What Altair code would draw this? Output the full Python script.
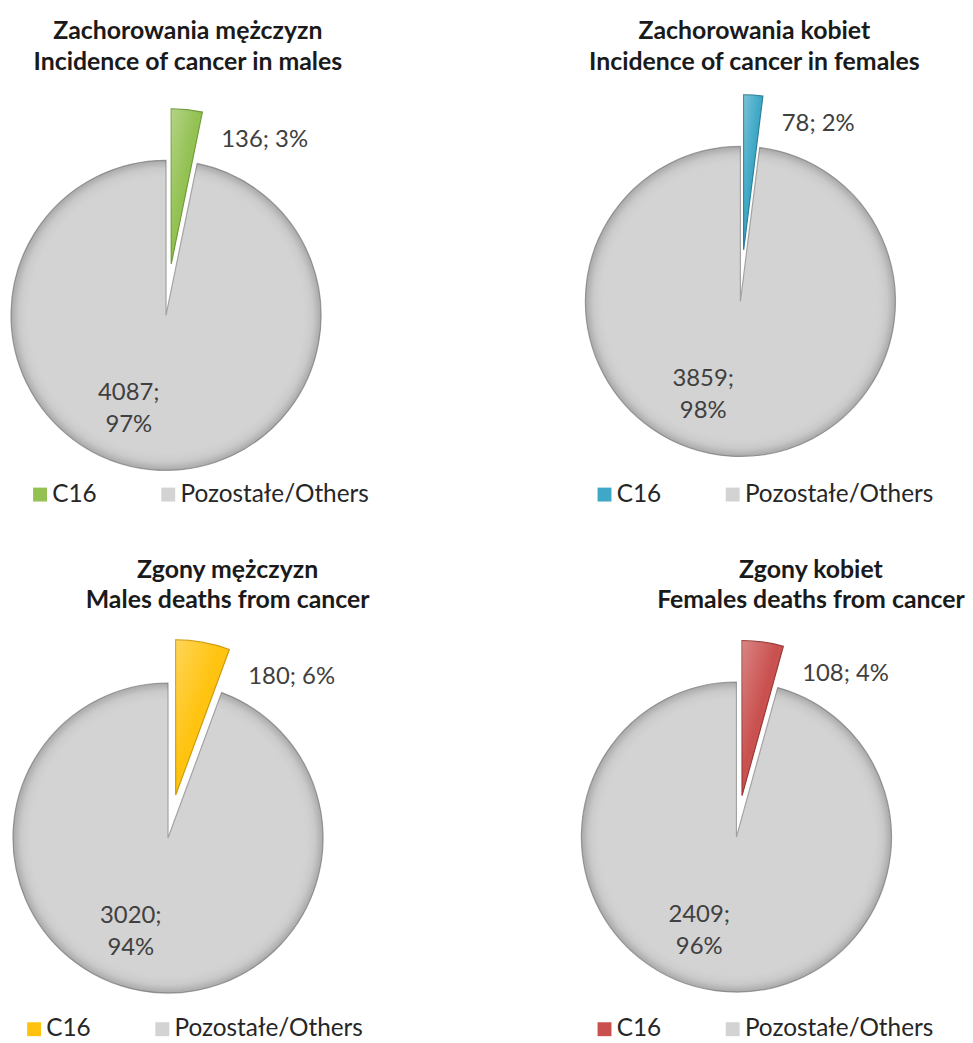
import math
import altair as alt
import pandas as pd

# ---------------- data ----------------
titles_pl = ["Zachorowania mężczyzn", "Zachorowania kobiet", "Zgony mężczyzn", "Zgony kobiet"]
titles_en = ["Incidence of cancer in males", "Incidence of cancer in females",
             "Males deaths from cancer", "Females deaths from cancer"]
categories = ["C16", "Pozostałe/Others"]
c16_counts = [136, 78, 180, 108]
others_counts = [4087, 3859, 3020, 2409]
c16_pct = [3, 2, 6, 4]
others_pct = [97, 98, 94, 96]

# ---------------- styles ----------------
c16_colors = ["#93c152", "#3ea8c6", "#ffc30f", "#c9504e"]
c16_strokes = ["#6f9a35", "#2a7f98", "#d39a00", "#993634"]
gray_fill = "#d3d3d3"
gray_stroke = "#a3a3a3"
FONT = "Lato"

# ---------------- layout (page pixels) ----------------
W, H = 957, 1027
centers = [(165, 314), (743, 300), (167, 840), (739, 839)]
explode = [52, 52, 44, 42]
R = 156
title_pos = [(187, 28), (757, 28), (227, 570), (814, 570)]
legend_pos = [(33, 493), (601, 493), (27, 1031), (601, 1031)]
OUT_DX, OUT_DY = 19, 28
IN_DIST, IN_ANGLE = 87, math.radians(205.5)

xs = alt.Scale(domain=[8, 8 + W])
ys = alt.Scale(domain=[8, 8 + H], reverse=True)
ts = alt.Scale(domain=[0, 1], range=[0, 2 * math.pi])

rim_shade = alt.RadialGradient(
    gradient="radial", x1=0.5, y1=0.5, r1=0, x2=0.5, y2=0.5, r2=0.5,
    stops=[alt.GradientStop(color="rgba(255,255,255,0)", offset=0),
           alt.GradientStop(color="rgba(255,255,255,0)", offset=0.86),
           alt.GradientStop(color="rgba(0,0,0,0.05)", offset=0.95),
           alt.GradientStop(color="rgba(0,0,0,0.20)", offset=1)])
slice_shade = alt.LinearGradient(
    gradient="linear", x1=0, y1=0, x2=1, y2=1,
    stops=[alt.GradientStop(color="rgba(255,255,255,0.30)", offset=0),
           alt.GradientStop(color="rgba(255,255,255,0)", offset=0.45),
           alt.GradientStop(color="rgba(0,0,0,0.18)", offset=1)])

layers = []
out_lbl, in_lbl, title_rows = [], [], []
for i in range(4):
    total = c16_counts[i] + others_counts[i]
    f = c16_counts[i] / total
    cx, cy = centers[i]
    mid = math.pi * f
    ex = cx + explode[i] * math.sin(mid)
    ey = cy - explode[i] * math.cos(mid)
    df = pd.DataFrame([
        dict(category=categories[0], t0=0.0, t1=f, x=ex, y=ey, order=0),
        dict(category=categories[1], t0=f, t1=1.0, x=cx, y=cy, order=1),
    ])
    end = 2 * math.pi * f
    out_lbl.append(dict(x=ex + R * math.sin(end) + OUT_DX,
                        y=ey - R * math.cos(end) + OUT_DY,
                        text=f"{c16_counts[i]}; {c16_pct[i]}%"))
    in_lbl.append(dict(x=cx + IN_DIST * math.sin(IN_ANGLE),
                       y=cy - IN_DIST * math.cos(IN_ANGLE),
                       text=f"{others_counts[i]};\n{others_pct[i]}%"))
    title_rows.append(dict(x=title_pos[i][0], y=title_pos[i][1],
                           text=f"{titles_pl[i]}\n{titles_en[i]}"))
    lx, ly = legend_pos[i]
    base = alt.Chart(df).encode(
        x=alt.X("x:Q", scale=xs, axis=None),
        y=alt.Y("y:Q", scale=ys, axis=None),
        theta=alt.Theta("t0:Q", scale=ts),
        theta2="t1:Q",
        order=alt.Order("order:Q"),
    )
    pie = base.mark_arc(outerRadius=R, strokeWidth=1.2).encode(
        color=alt.Color("category:N",
                        scale=alt.Scale(domain=categories, range=[c16_colors[i], gray_fill]),
                        legend=alt.Legend(orient="none", legendX=lx - 15, legendY=ly - 8 - 11,
                                          direction="horizontal", columns=2, title=None,
                                          symbolType="square", symbolSize=196,
                                          symbolStrokeWidth=0, labelFont=FONT,
                                          labelFontSize=24.5, labelColor="#262626",
                                          labelOffset=0, columnPadding=59, padding=0,
                                          labelLimit=400)),
        stroke=alt.Color("category:N",
                         scale=alt.Scale(domain=categories, range=[c16_strokes[i], gray_stroke]),
                         legend=None),
    )
    rim = base.transform_filter(alt.datum.order == 1).mark_arc(
        outerRadius=R, fill=rim_shade, strokeWidth=0)
    shade = base.transform_filter(alt.datum.order == 0).mark_arc(
        outerRadius=R, fill=slice_shade, strokeWidth=0)
    layers += [pie, rim, shade]

out_df = pd.DataFrame(out_lbl)
in_df = pd.DataFrame(in_lbl)
title_df = pd.DataFrame(title_rows)

out_text = alt.Chart(out_df).mark_text(font=FONT, fontSize=24, color="#404040",
                                       align="left", baseline="middle").encode(
    x=alt.X("x:Q", scale=xs, axis=None), y=alt.Y("y:Q", scale=ys, axis=None), text="text:N")
in_text = alt.Chart(in_df).mark_text(font=FONT, fontSize=24, color="#404040",
                                     align="center", baseline="middle", lineBreak="\n",
                                     lineHeight=32).encode(
    x=alt.X("x:Q", scale=xs, axis=None), y=alt.Y("y:Q", scale=ys, axis=None), text="text:N")
title_text = alt.Chart(title_df).mark_text(font=FONT, fontSize=25, fontWeight="bold",
                                           color="#1a1a1a", align="center", baseline="middle",
                                           lineBreak="\n", lineHeight=31).encode(
    x=alt.X("x:Q", scale=xs, axis=None), y=alt.Y("y:Q", scale=ys, axis=None), text="text:N")

chart = alt.layer(*layers, out_text, in_text, title_text).resolve_scale(
    color="independent", stroke="independent"
).properties(width=W, height=H, padding=0).configure_view(strokeWidth=0)

chart.save("out.html", embed_options={"renderer": "svg", "actions": False})
